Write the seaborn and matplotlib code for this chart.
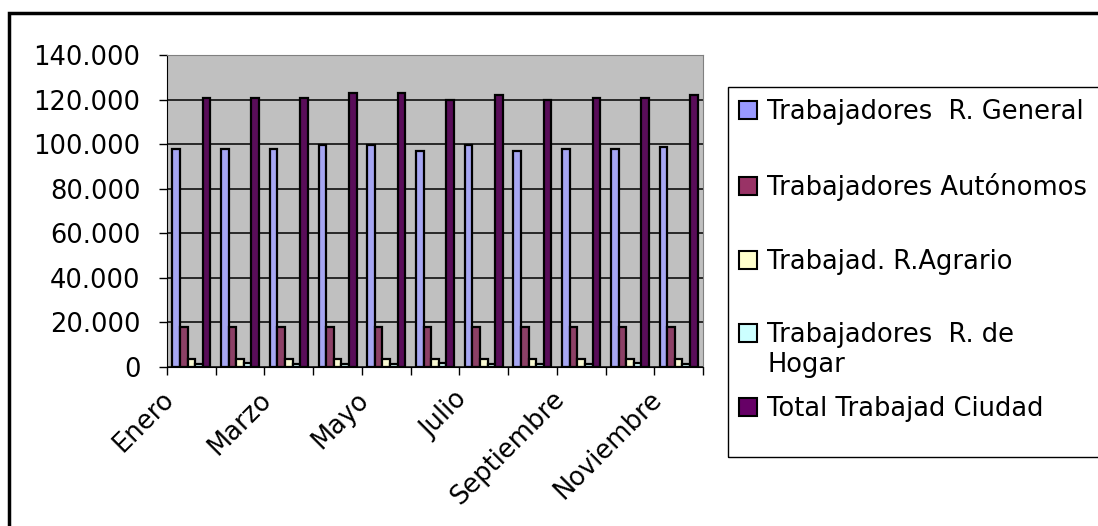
import pandas as pd
import seaborn as sns
import matplotlib.pyplot as plt
import matplotlib as mpl
from matplotlib.patches import Rectangle
from matplotlib.ticker import FuncFormatter, FixedLocator
from matplotlib.transforms import ScaledTranslation

# Data
meses = ['Enero', 'Febrero', 'Marzo', 'Abril', 'Mayo', 'Junio', 'Julio',
         'Agosto', 'Septiembre', 'Octubre', 'Noviembre']
series = ['Trabajadores  R. General', 'Trabajadores Autónomos',
          'Trabajad. R.Agrario', 'Trabajadores  R. de Hogar',
          'Total Trabajad Ciudad']
r_general = [97600, 97600, 97600, 99400, 99400, 96700, 99400, 96700, 97600, 97600, 98500]
autonomos = [17900, 17900, 17900, 17900, 17900, 17900, 17900, 17900, 17900, 17900, 17900]
agrario = [3400, 3400, 3400, 3400, 3400, 3400, 3400, 3400, 3400, 3400, 3400]
hogar = [1500, 1900, 1500, 1500, 1500, 1900, 1500, 1500, 1500, 1900, 1500]
total = [120800, 120800, 120800, 122900, 122900, 119900, 122150, 119900, 120800, 120800, 122150]
colores = ['#9999FF', '#993366', '#FFFFCC', '#CCFFFF', '#660066']

valores = [r_general, autonomos, agrario, hogar, total]
df = pd.DataFrame({
    'Mes': [m for v in valores for m in meses],
    'Serie': [s for s, v in zip(series, valores) for _ in v],
    'Valor': [x for v in valores for x in v],
})

mpl.rcParams['font.family'] = ['DejaVu Sans']
mpl.rcParams['font.size'] = 18.5

fig = plt.figure(figsize=(10.98, 5.26), dpi=100)
ax = fig.add_axes([167 / 1098, 1 - 367 / 526, (703 - 167) / 1098, (367 - 55) / 526])

sns.barplot(
    data=df, x='Mes', y='Valor', hue='Serie', order=meses, hue_order=series,
    palette=colores, edgecolor='black', linewidth=1.6, width=0.78,
    legend=False, ax=ax, zorder=3
)

ax.set_facecolor('#C0C0C0')
ax.set_ylim(0, 140000)
ax.set_xlim(-0.5, len(meses) - 0.5)
ax.yaxis.set_major_locator(plt.MultipleLocator(20000))
ax.yaxis.set_major_formatter(FuncFormatter(lambda v, p: f'{v:,.0f}'.replace(',', '.')))
ax.grid(which='major', axis='y', color='black', linewidth=1.1, zorder=1)
ax.set_axisbelow(True)

# x ticks at category boundaries, labels every other month
ax.xaxis.set_minor_locator(FixedLocator([i - 0.5 for i in range(len(meses) + 1)]))
ax.set_xticks(range(0, len(meses), 2))
ax.set_xticklabels(meses[::2], rotation=45, ha='right', va='top', rotation_mode='anchor')
ax.tick_params(axis='x', which='major', length=0, pad=14)
ax.tick_params(axis='x', which='minor', length=6, width=1, color='black')
ax.tick_params(axis='y', length=6, width=1, color='black', pad=13)
for lbl in ax.get_xticklabels():
    lbl.set_transform(lbl.get_transform() + ScaledTranslation(-0.30, 0, fig.dpi_scale_trans))
ax.set_xlabel('')
ax.set_ylabel('')

for side in ['top', 'right']:
    ax.spines[side].set_color('#808080')
for side in ['left', 'bottom']:
    ax.spines[side].set_color('black')

# Legend
handles = [Rectangle((0, 0), 1, 1, facecolor=c, edgecolor='black', linewidth=1.5) for c in colores]
labels = [s.replace(' de Hogar', ' de') for s in series]
leg = fig.legend(handles, labels, loc='upper left', bbox_to_anchor=(739 / 1098, 1 - 99 / 526),
                 frameon=False, handlelength=0.7, handleheight=0.7, handletextpad=0.4,
                 labelspacing=1.86, borderaxespad=0, borderpad=0)

# second line of the wrapped legend label
fig.canvas.draw()
bb = leg.get_texts()[3].get_window_extent()
fig.text(bb.x0 / 1098, (bb.y0 - 4) / 526, 'Hogar', va='top', ha='left')

# Legend frame and outer chart border
fig.add_artist(Rectangle((728 / 1098, 1 - 457 / 526), 0.4, (457 - 87) / 526,
                         transform=fig.transFigure, fill=False, edgecolor='black', linewidth=1))
fig.add_artist(Rectangle((9 / 1098, -0.1), 1.1, 1.1 - 13 / 526,
                         transform=fig.transFigure, fill=False, edgecolor='black', linewidth=2.5))

plt.savefig('out.png', dpi=100)
